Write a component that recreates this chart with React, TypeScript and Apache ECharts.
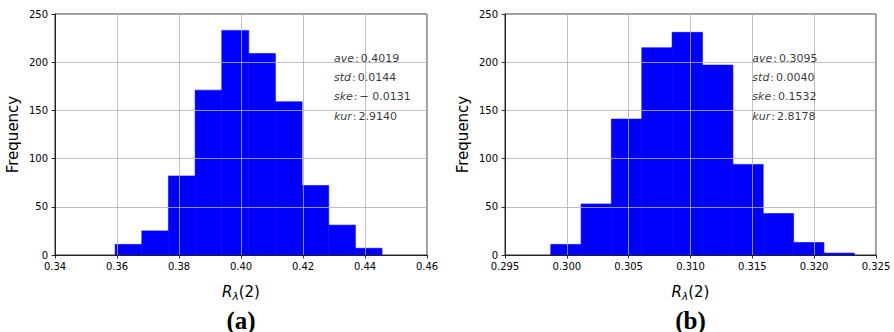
import React, { useEffect, useRef } from "react";
import * as echarts from "echarts";

// Panel (a)
const edgesA = [0.3594, 0.368, 0.3766, 0.3852, 0.3938, 0.4025, 0.4111, 0.4197, 0.4283, 0.4369, 0.4455];
const countsA = [11, 25, 82, 171, 233, 209, 159, 72, 31, 7];
const statsA = [
  ["ave", "0.4019"],
  ["std", "0.0144"],
  ["ske", "\u2212 0.0131"],
  ["kur", "2.9140"],
];
const xMinA = 0.34, xMaxA = 0.46, xStepA = 0.02, xDecA = 2, statXA = 0.43;

// Panel (b)
const edgesB = [0.2987, 0.30115, 0.3036, 0.30606, 0.30851, 0.31097, 0.31343, 0.31588, 0.31834, 0.32079, 0.32325];
const countsB = [11, 53, 141, 215, 231, 197, 94, 43, 13, 2];
const statsB = [
  ["ave", "0.3095"],
  ["std", "0.0040"],
  ["ske", "0.1532"],
  ["kur", "2.8178"],
];
const xMinB = 0.295, xMaxB = 0.325, xStepB = 0.005, xDecB = 3, statXB = 0.315;

const yMin = 0, yMax = 250, yStep = 50;
const statYs = [204, 184, 164, 144];
const captions = ["(a)", "(b)"];
const xTitle = "{i|R}{s|\u03bb}{n|(2)}";
const yTitle = "Frequency";

const FONT = "DejaVu Sans";

const grids = [
  { left: 55, top: 14, width: 372, height: 241 },
  { left: 505, top: 14, width: 371, height: 241 },
];

function histData(edges: number[], counts: number[]) {
  return counts.map((c, i) => [edges[i], edges[i + 1], c]);
}

function statData(x: number, stats: string[][]) {
  return stats.map((s, i) => [x, statYs[i], s[0], s[1]]);
}

export default function App() {
  const ref = useRef<HTMLDivElement>(null);
  useEffect(() => {
    document.body.style.margin = "0";
    const chart = echarts.init(ref.current!, undefined, { renderer: "svg" });
    const panels = [
      { min: xMinA, max: xMaxA, step: xStepA, dec: xDecA, edges: edgesA, counts: countsA, stats: statsA, sx: statXA },
      { min: xMinB, max: xMaxB, step: xStepB, dec: xDecB, edges: edgesB, counts: countsB, stats: statsB, sx: statXB },
    ];
    const xAxis: any[] = [];
    const yAxis: any[] = [];
    const series: any[] = [];
    panels.forEach((p, gi) => {
      xAxis.push({
        type: "value",
        gridIndex: gi,
        min: p.min,
        max: p.max,
        interval: p.step,
        z: 3,
        name: xTitle,
        nameLocation: "middle",
        nameGap: 28,
        nameTextStyle: {
          rich: {
            i: { fontFamily: FONT, fontSize: 15, fontStyle: "italic", color: "#000" },
            s: { fontFamily: FONT, fontSize: 10.5, fontStyle: "italic", color: "#000", verticalAlign: "bottom", padding: [7, 0, 0, 0] },
            n: { fontFamily: FONT, fontSize: 15, color: "#000" },
          },
        },
        axisLine: { show: true, lineStyle: { color: "#000", width: 0.8 } },
        axisTick: { show: true, length: 3.5, lineStyle: { color: "#000", width: 0.8 } },
        axisLabel: {
          color: "#000",
          fontFamily: FONT,
          fontSize: 10,
          margin: 6,
          formatter: (v: number) => v.toFixed(p.dec),
        },
        splitLine: { show: true, lineStyle: { color: "#b0b0b0", width: 0.8 } },
      });
      yAxis.push({
        type: "value",
        gridIndex: gi,
        min: yMin,
        max: yMax,
        interval: yStep,
        z: 3,
        name: yTitle,
        nameLocation: "middle",
        nameGap: 35,
        nameTextStyle: { fontFamily: FONT, fontSize: 15, color: "#000" },
        axisLine: { show: true, lineStyle: { color: "#000", width: 0.8 } },
        axisTick: { show: true, length: 3.5, lineStyle: { color: "#000", width: 0.8 } },
        axisLabel: { color: "#000", fontFamily: FONT, fontSize: 10, margin: 7 },
        splitLine: { show: true, lineStyle: { color: "#b0b0b0", width: 0.8 } },
      });
      series.push({
        type: "custom",
        xAxisIndex: gi,
        yAxisIndex: gi,
        z: 1,
        encode: { x: [0, 1], y: 2 },
        data: histData(p.edges, p.counts),
        renderItem: (params: any, api: any) => {
          const s = api.coord([api.value(0), 0]);
          const e = api.coord([api.value(1), api.value(2)]);
          return {
            type: "rect",
            shape: { x: s[0], y: e[1], width: e[0] - s[0], height: s[1] - e[1] },
            style: { fill: "#0000ff", stroke: "#0000ff", lineWidth: 0.6 },
          };
        },
      });
      series.push({
        type: "scatter",
        xAxisIndex: gi,
        yAxisIndex: gi,
        z: 5,
        silent: true,
        symbolSize: 0,
        data: statData(p.sx, p.stats),
        label: {
          show: true,
          position: "right",
          distance: 0,
          formatter: (prm: any) => `{i|${prm.data[2]}}{c|:}{n|${prm.data[3]}}`,
          rich: {
            i: { fontFamily: FONT, fontSize: 11, fontStyle: "italic", color: "#000" },
            c: { fontFamily: FONT, fontSize: 11, color: "#000", padding: [0, 2, 0, 1] },
            n: { fontFamily: FONT, fontSize: 11, color: "#000" },
          },
        },
      });
    });
    chart.setOption({
      animation: false,
      grid: grids.map((g) => ({
        ...g,
        show: true,
        borderColor: "#000",
        borderWidth: 0.8,
        backgroundColor: "transparent",
      })),
      xAxis,
      yAxis,
      series,
      graphic: captions.map((c, i) => ({
        type: "text",
        x: grids[i].left + grids[i].width / 2,
        y: 320,
        style: {
          text: c,
          fontFamily: "Liberation Serif",
          fontWeight: "bold",
          fontSize: 25,
          fill: "#000",
          textAlign: "center",
          textVerticalAlign: "middle",
        },
      })),
    });
    return () => chart.dispose();
  }, []);
  return <div ref={ref} style={{ width: 894, height: 332 }} />;
}
